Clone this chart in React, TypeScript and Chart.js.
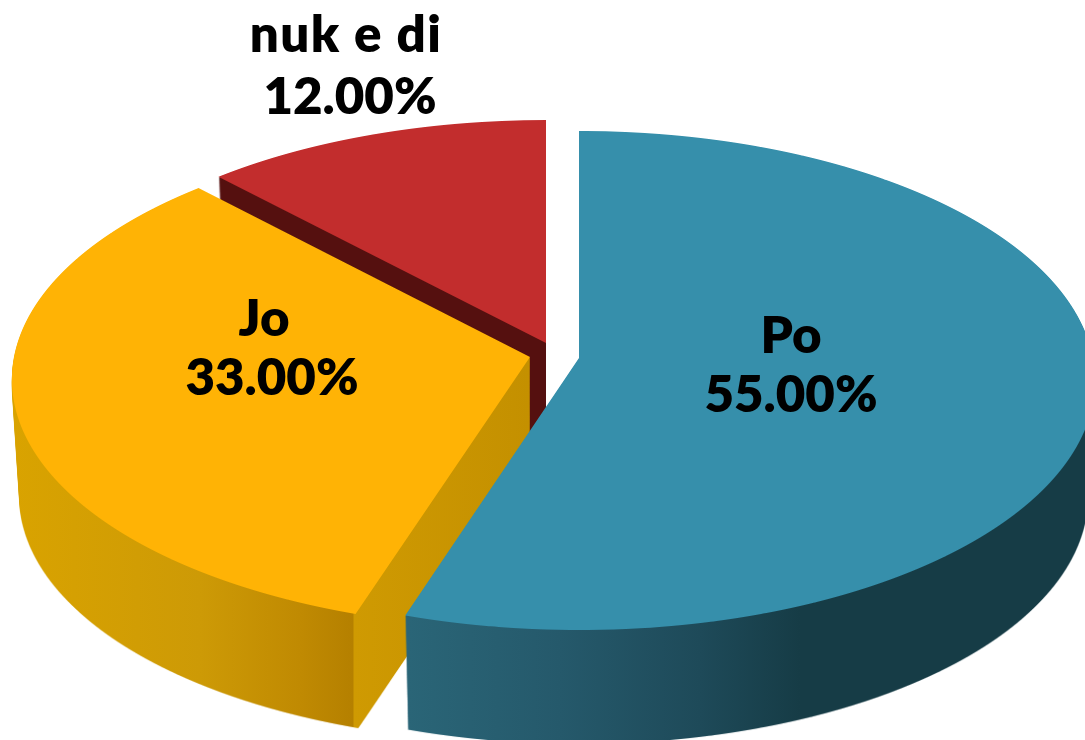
import React, { useEffect, useRef } from "react";
import Chart from "chart.js/auto";

const categories = ["Po", "Jo", "nuk e di"];
const shares = [55, 33, 12];
const topColors = ["#368fab", "#ffb305", "#c22d2d"];

const W = 1085;
const H = 740;
const OFF_W = 1300;
const PERSPECTIVE = 0.0902;
const FONT = '800 51px Lato';

// placement of each lifted slice on the page (apex, half width, half height)
const placement = [
  { x0: 579, y0: 358, a: 514, b: 247.5 },
  { x0: 530, y0: 357, a: 516, b: 247 },
  { x0: 546, y0: 343, a: 510, b: 243 },
];
const wallStops: [number, string][][] = [
  [[408, "#2a6577"], [560, "#25596b"], [700, "#1e4a59"], [800, "#163c46"], [1085, "#163c46"]],
  [[12, "#d9a300"], [200, "#cd9a06"], [300, "#c08a02"], [353, "#b58000"], [354, "#cf9a02"], [530, "#c49000"]],
  [[200, "#55100f"], [560, "#55100f"]],
];
const labelAt = [
  { x1: 791, x2: 791, y1: 353, y2: 412, spacing: "0px" },
  { x1: 264, x2: 272, y1: 336, y2: 395, spacing: "0px" },
  { x1: 346, x2: 350, y1: 52, y2: 114, spacing: "1.5px" },
];

function sliceMask(arc: any, p: { x0: number; y0: number; a: number; b: number }) {
  const mask = document.createElement("canvas");
  mask.width = OFF_W;
  mask.height = H + 200;
  const c = mask.getContext("2d")!;
  const R = arc.outerRadius;
  const t0 = -p.b / (1 + PERSPECTIVE) - 1;
  const t1 = p.b / (1 - PERSPECTIVE) + 1;
  for (let Y = Math.floor(p.y0 + t0); Y <= Math.ceil(p.y0 + t1); Y++) {
    if (Y < 0) continue;
    const t = Y + 0.5 - p.y0;
    const v = t / (p.b + PERSPECTIVE * t);
    const w = 1 - PERSPECTIVE * v;
    const sx = p.a / (w * R);
    const sy = p.b / (w * w * R);
    c.save();
    c.beginPath();
    c.rect(0, Y, OFF_W, 1);
    c.clip();
    c.setTransform(sx, 0, 0, sy, p.x0 - sx * arc.x, Y + 0.5 - sy * (arc.y + v * R));
    arc.draw(c);
    c.restore();
  }
  return mask;
}

function sliceWall(mask: HTMLCanvasElement, p: { x0: number; y0: number }, stops: [number, string][]) {
  const wall = document.createElement("canvas");
  wall.width = mask.width;
  wall.height = mask.height;
  const c = wall.getContext("2d")!;
  const N = 120;
  for (let k = 1; k <= N; k++) {
    const f = k / N;
    const S = 1 - 0.015 * f;
    c.drawImage(mask, p.x0 * (1 - S), p.y0 * (1 - S) + 118 * f, mask.width * S, mask.height * S);
  }
  const first = stops[0][0];
  const last = stops[stops.length - 1][0];
  const g = c.createLinearGradient(first, 0, last, 0);
  stops.forEach(([x, col]) => g.addColorStop((x - first) / (last - first), col));
  c.globalCompositeOperation = "source-in";
  c.fillStyle = g;
  c.fillRect(0, 0, wall.width, wall.height);
  return wall;
}

const liftedPie = {
  id: "liftedPie",
  beforeDatasetsDraw(chart: any) {
    const arcs = chart.getDatasetMeta(0).data;
    const ctx = chart.ctx;
    for (const i of [2, 1, 0]) {
      const mask = sliceMask(arcs[i], placement[i]);
      ctx.drawImage(sliceWall(mask, placement[i], wallStops[i]), 0, 0);
      ctx.drawImage(mask, 0, 0);
    }
    return false;
  },
  afterDraw(chart: any) {
    const ctx = chart.ctx;
    ctx.save();
    ctx.fillStyle = "#000";
    ctx.textAlign = "center";
    ctx.textBaseline = "alphabetic";
    ctx.font = FONT;
    categories.forEach((name, i) => {
      ctx.letterSpacing = labelAt[i].spacing;
      ctx.fillText(name, labelAt[i].x1, labelAt[i].y1);
      ctx.letterSpacing = "0px";
      ctx.fillText(`${shares[i].toFixed(2)}%`, labelAt[i].x2, labelAt[i].y2);
    });
    ctx.restore();
  },
};

export default function App() {
  const ref = useRef<HTMLCanvasElement>(null);
  useEffect(() => {
    const chart = new Chart(ref.current!, {
      type: "pie",
      data: {
        labels: categories,
        datasets: [{ data: shares, backgroundColor: topColors, borderWidth: 0 }],
      },
      options: {
        animation: false,
        responsive: false,
        devicePixelRatio: 1,
        plugins: { legend: { display: false }, tooltip: { enabled: false } },
      },
      plugins: [liftedPie],
    } as any);
    return () => chart.destroy();
  }, []);
  return (
    <div style={{ position: "fixed", left: 0, top: 0, width: W, height: H, background: "#fff" }}>
      <canvas ref={ref} width={W} height={H} style={{ display: "block" }} />
    </div>
  );
}
